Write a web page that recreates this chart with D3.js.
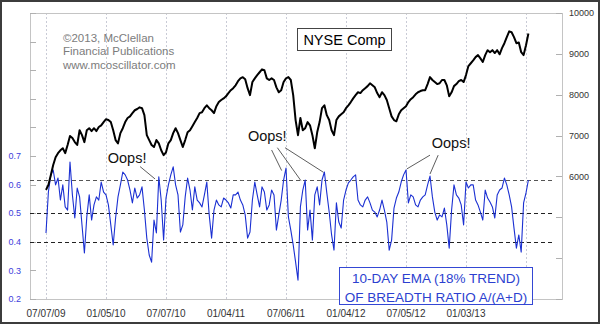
<!DOCTYPE html>
<html><head><meta charset="utf-8">
<script src="https://cdn.jsdelivr.net/npm/d3@7"></script>
<style>
html,body{margin:0;padding:0;background:#fff;}
svg{display:block;font-family:"Liberation Sans",Arial,sans-serif;}
</style></head>
<body>
<div id="chart"></div>
<script>
// Gridline date labels (every 125 trading days from 07/07/09)
const dateLabels = ["07/07/09","01/05/10","07/07/10","01/04/11","07/06/11","01/04/12","07/05/12","01/03/13",""];
const gridDays = [0,125,250,375,500,625,750,875,1000];
// Weekly samples (every 5 trading days) of NYSE Composite
const nyseComp = [5670,5790,6030,6280,6470,6570,6640,6690,6570,6770,6990,6940,6840,6770,7130,7010,6840,7130,7180,7110,
7180,7110,7210,7250,7330,7400,7380,7330,7130,6890,6810,7060,7180,7330,7430,7470,7550,7620,7650,7690,
7670,7500,7010,6890,6770,6720,6890,6810,6640,6520,6590,6810,6890,7060,7180,7060,6890,6720,6890,7080,
7130,7230,7330,7430,7550,7570,7670,7740,7670,7620,7550,7720,7820,7870,7910,7960,8040,8110,8160,8230,
8330,8400,8430,8380,8160,7990,8310,8400,8480,8550,8620,8600,8400,8360,8400,8360,8180,8060,8110,8310,
8400,8430,8360,7990,7380,7010,7430,7130,7180,7330,7250,7010,6690,7080,7330,7670,7740,7500,7380,7130,
7010,7380,7470,7520,7570,7670,7740,7820,7910,7990,8060,8040,8110,8160,8210,8280,8230,8180,8040,7940,
8060,7990,7870,7670,7470,7380,7350,7520,7620,7670,7720,7820,7890,7940,8010,8060,8090,8110,8110,8260,
8430,8360,8310,8260,8280,8360,8360,8230,7960,8060,8210,8260,8330,8360,8310,8480,8700,8770,8840,8920,
8970,8890,8800,8970,9090,9040,9090,9020,9090,8990,9140,9260,9410,9550,9530,9410,9260,9280,9040,8970,
9210,9500];
// Weekly samples of 10-day EMA of A/(A+D)
const breadthEMA = [0.431,0.574,0.634,0.651,0.599,0.623,0.546,0.599,0.522,0.511,0.679,0.564,0.483,0.588,0.557,0.459,0.361,0.487,0.564,0.476,
0.529,0.557,0.546,0.609,0.574,0.564,0.529,0.459,0.389,0.483,0.557,0.599,0.644,0.634,0.616,0.581,0.536,0.588,0.553,0.564,
0.592,0.511,0.413,0.354,0.329,0.476,0.431,0.627,0.546,0.406,0.553,0.599,0.634,0.662,0.599,0.564,0.434,0.459,0.557,0.623,
0.581,0.511,0.592,0.546,0.536,0.522,0.564,0.609,0.494,0.413,0.511,0.546,0.529,0.522,0.553,0.546,0.536,0.518,0.564,0.564,
0.574,0.546,0.529,0.494,0.413,0.434,0.546,0.609,0.564,0.522,0.592,0.574,0.511,0.529,0.581,0.564,0.441,0.494,0.546,0.616,
0.658,0.487,0.441,0.389,0.329,0.266,0.522,0.581,0.616,0.441,0.511,0.406,0.564,0.592,0.529,0.616,0.644,0.571,0.504,0.424,
0.371,0.536,0.469,0.448,0.546,0.581,0.606,0.616,0.627,0.634,0.546,0.529,0.522,0.546,0.557,0.536,0.511,0.504,0.487,0.511,
0.546,0.511,0.469,0.371,0.406,0.518,0.553,0.574,0.609,0.634,0.651,0.536,0.564,0.557,0.529,0.522,0.546,0.557,0.564,0.599,
0.630,0.557,0.504,0.476,0.494,0.487,0.518,0.459,0.378,0.511,0.599,0.564,0.553,0.529,0.459,0.609,0.588,0.599,0.599,0.546,
0.529,0.504,0.476,0.581,0.553,0.539,0.522,0.483,0.564,0.581,0.588,0.623,0.599,0.564,0.522,0.448,0.378,0.424,0.364,0.536,
0.571,0.616];
const daysPerSample = 5;
const leftTicks = [0.2,0.3,0.4,0.5,0.6,0.7,0.8,0.9,1.0,1.1,1.2];
const leftLabels = [0.2,0.3,0.4,0.5,0.6,0.7];
const rightTicks = [3000,4000,5000,6000,7000,8000,9000,10000];
const rightLabels = [6000,7000,8000,9000,10000];
const refLevels = [0.615,0.5,0.4];
const copyright = ["\u00A92013, McClellan","Financial Publications","www.mcoscillator.com"];
// Annotations in (trading day, EMA) space: label anchor, pointer starts and pointer ends
const oopsLabels = [[169,0.674],[461,0.751],[844,0.728]];
const oopsFrom = [[196,0.663],[470,0.721],[482,0.729],[498,0.729],[800,0.703],[817,0.703]];
const oopsTo   = [[227,0.620],[491,0.649],[531,0.614],[578,0.643],[752,0.655],[800,0.637]];

const W=600,H=324;
const svg=d3.select("#chart").append("svg").attr("width",W).attr("height",H);
const L=30,R=562,T=13,B=299;
const x=d3.scaleLinear().domain([0,1000]).range([46,526]);
const yL=d3.scaleLinear().domain([0.2,1.2]).range([B,T]);
const yR=d3.scaleLinear().domain([3000,10000]).range([B,T]);

svg.append("rect").attr("x",0).attr("y",0).attr("width",W).attr("height",H).attr("fill","#fff");
// outer frame
svg.append("rect").attr("x",1).attr("y",1).attr("width",W-2).attr("height",H-2)
  .attr("fill","none").attr("stroke","#3c3c3c").attr("stroke-width",2);

// vertical gridlines
svg.append("g").selectAll("line").data(gridDays).join("line")
  .attr("x1",d=>Math.round(x(d))+0.5).attr("x2",d=>Math.round(x(d))+0.5)
  .attr("y1",T).attr("y2",B).attr("stroke","#c9cbd6").attr("stroke-dasharray","2,2");

// plot frame
svg.append("rect").attr("x",L+0.5).attr("y",T+0.5).attr("width",R-L).attr("height",B-T)
  .attr("fill","none").attr("stroke","#c4c4c4");

// ticks
svg.append("g").selectAll("line").data(leftTicks).join("line")
  .attr("x1",L).attr("x2",L+6).attr("y1",d=>Math.round(yL(d))+0.5).attr("y2",d=>Math.round(yL(d))+0.5)
  .attr("stroke","#b0b0b0");
svg.append("g").selectAll("line").data(rightTicks).join("line")
  .attr("x1",R-6).attr("x2",R).attr("y1",d=>Math.round(yR(d))+0.5).attr("y2",d=>Math.round(yR(d))+0.5)
  .attr("stroke","#b0b0b0");

// tick labels
svg.append("g").selectAll("text").data(leftLabels).join("text")
  .attr("x",21).attr("y",d=>yL(d)+3.2).attr("text-anchor","end")
  .attr("font-size",9).attr("fill","#4040dc").text(d=>d.toFixed(1));
svg.append("g").selectAll("text").data(rightLabels).join("text")
  .attr("x",569).attr("y",d=>yR(d)+3.3)
  .attr("font-size",9).attr("fill","#333").text(d=>d);
svg.append("g").selectAll("text").data(gridDays).join("text")
  .attr("x",d=>x(d)).attr("y",316.5).attr("text-anchor","middle")
  .attr("font-size",10).attr("fill","#333").text((d,i)=>dateLabels[i]);

// reference levels
svg.append("g").selectAll("line").data(refLevels).join("line")
  .attr("x1",L).attr("x2",552).attr("y1",d=>Math.round(yL(d))+0.5).attr("y2",d=>Math.round(yL(d))+0.5)
  .attr("stroke",(d,i)=>i===0?"#555":"#222").attr("stroke-dasharray","4,3");

// breadth EMA line
const lineL=d3.line().x((d,i)=>x(i*daysPerSample)).y(d=>yL(d));
svg.append("path").datum(breadthEMA).attr("d",lineL)
  .attr("fill","none").attr("stroke","#1b30d2").attr("stroke-width",1.1).attr("stroke-linejoin","round");

// NYSE line
const lineR=d3.line().x((d,i)=>x(i*daysPerSample)).y(d=>yR(d));
svg.append("path").datum(nyseComp).attr("d",lineR)
  .attr("fill","none").attr("stroke","#000").attr("stroke-width",2).attr("stroke-linejoin","round");

// copyright
svg.append("g").selectAll("text").data(copyright).join("text")
  .attr("x",63).attr("y",(d,i)=>41.5+i*13.6).attr("font-size",11.5).attr("fill","#7c7c7c").text(d=>d);

// NYSE Comp box
svg.append("rect").attr("x",297.5).attr("y",28.5).attr("width",94).attr("height",22)
  .attr("fill","#fff").attr("stroke","#444");
svg.append("text").attr("x",344.5).attr("y",44.5).attr("text-anchor","middle")
  .attr("font-size",14.5).attr("fill","#000").text("NYSE Comp");

// Oops annotations
svg.append("g").selectAll("line").data(oopsFrom).join("line")
  .attr("x1",d=>x(d[0])).attr("y1",d=>yL(d[1]))
  .attr("x2",(d,i)=>x(oopsTo[i][0])).attr("y2",(d,i)=>yL(oopsTo[i][1]))
  .attr("stroke","#333").attr("stroke-width",0.8);
svg.append("g").selectAll("text").data(oopsLabels).join("text")
  .attr("x",d=>x(d[0])).attr("y",d=>yL(d[1])).attr("text-anchor","middle")
  .attr("font-size",14.5).attr("fill","#111").text("Oops!");

// legend box
svg.append("rect").attr("x",339.5).attr("y",267.5).attr("width",193).attr("height",37)
  .attr("fill","#fff").attr("stroke","#3447d4");
svg.append("text").attr("x",436).attr("y",282.5).attr("text-anchor","middle")
  .attr("font-size",13.5).attr("fill","#2c3fd0").text("10-DAY EMA (18% TREND)");
svg.append("text").attr("x",436).attr("y",302).attr("text-anchor","middle")
  .attr("font-size",13.5).attr("fill","#2c3fd0").text("OF BREADTH RATIO A/(A+D)");
</script>
</body></html>
